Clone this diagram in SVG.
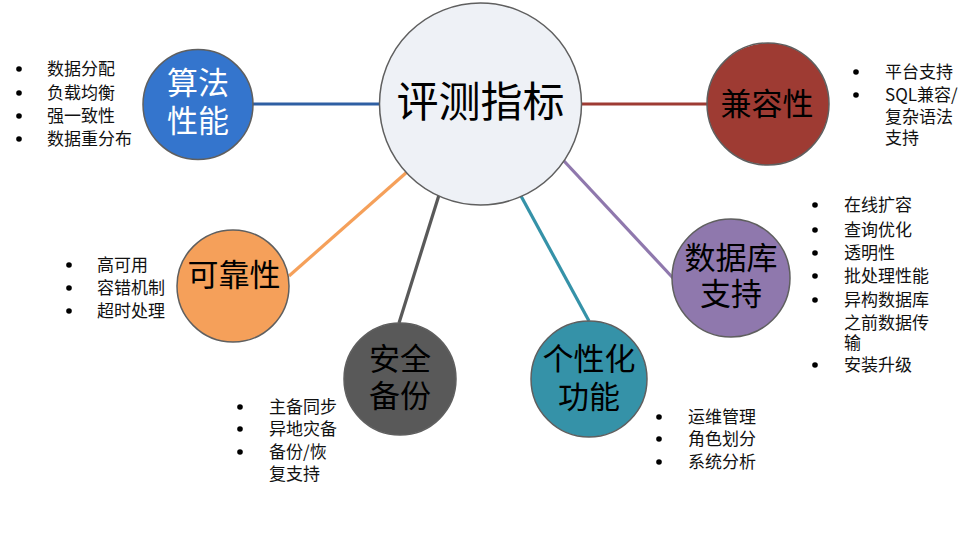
<svg xmlns="http://www.w3.org/2000/svg" width="972" height="545" viewBox="0 0 972 545">
<style>
.node{stroke:#5f5f5f;stroke-width:1.5}
.big{font-family:"Noto Sans CJK SC","Microsoft YaHei",sans-serif;font-size:31px;text-anchor:middle;fill:#000}
.li{font-family:"Noto Sans CJK SC","Microsoft YaHei",sans-serif;font-size:17px;fill:#111}
.dot{fill:#000}
.con{stroke-width:3.2;fill:none}
</style>
<rect width="972" height="545" fill="#fff"/>
<g id="connectors">
<line class="con" x1="253" y1="104" x2="380" y2="104" stroke="#2E5FA3"/>
<line class="con" x1="581" y1="104" x2="708" y2="104" stroke="#9E3B33"/>
<line class="con" x1="289" y1="276" x2="407" y2="172" stroke="#F5A05A"/>
<line class="con" x1="439" y1="195" x2="399" y2="323" stroke="#595959"/>
<line class="con" x1="521" y1="196" x2="589" y2="321" stroke="#3592A8"/>
<line class="con" x1="564" y1="161" x2="673" y2="278" stroke="#8F78AD"/>
</g>
<g id="center">
<circle class="node" cx="480.5" cy="104" r="101" fill="#EEF1F6" stroke="#888"/>
<text class="big" x="480.5" y="117" style="font-size:42px">评测指标</text>
</g>
<g id="algo">
<circle class="node" cx="198" cy="104.5" r="55" fill="#3475CD"/>
<text class="big" style="fill:#fff"><tspan x="198" y="94">算法</tspan><tspan x="198" y="132">性能</tspan></text>
<circle class="dot" cx="19" cy="69" r="2.8"/><text class="li" x="47" y="75">数据分配</text>
<circle class="dot" cx="19" cy="93" r="2.8"/><text class="li" x="47" y="99">负载均衡</text>
<circle class="dot" cx="19" cy="116" r="2.8"/><text class="li" x="47" y="122">强一致性</text>
<circle class="dot" cx="19" cy="139" r="2.8"/><text class="li" x="47" y="145">数据重分布</text>
</g>
<g id="compat">
<circle class="node" cx="768" cy="104" r="61" fill="#9E3B33"/>
<text class="big" x="767" y="115">兼容性</text>
<circle class="dot" cx="856" cy="72" r="2.8"/><text class="li" x="885" y="78">平台支持</text>
<circle class="dot" cx="856" cy="95" r="2.8"/><text class="li"><tspan x="885" y="101">SQL兼容/</tspan><tspan x="885" y="123">复杂语法</tspan><tspan x="885" y="144">支持</tspan></text>
</g>
<g id="dbsupport">
<circle class="node" cx="731" cy="278" r="59" fill="#8F78AD"/>
<text class="big"><tspan x="731" y="269">数据库</tspan><tspan x="731" y="305">支持</tspan></text>
<circle class="dot" cx="815" cy="205" r="2.8"/><text class="li" x="844" y="211">在线扩容</text>
<circle class="dot" cx="815" cy="230" r="2.8"/><text class="li" x="844" y="236">查询优化</text>
<circle class="dot" cx="815" cy="253" r="2.8"/><text class="li" x="844" y="259">透明性</text>
<circle class="dot" cx="815" cy="276" r="2.8"/><text class="li" x="844" y="282">批处理性能</text>
<circle class="dot" cx="815" cy="300" r="2.8"/><text class="li"><tspan x="844" y="306">异构数据库</tspan><tspan x="844" y="329">之前数据传</tspan><tspan x="844" y="349">输</tspan></text>
<circle class="dot" cx="815" cy="365" r="2.8"/><text class="li" x="844" y="371">安装升级</text>
</g>
<g id="reliab">
<circle class="node" cx="233" cy="286" r="56" fill="#F5A05A"/>
<text class="big" x="234" y="286">可靠性</text>
<circle class="dot" cx="69" cy="265" r="2.8"/><text class="li" x="97" y="271">高可用</text>
<circle class="dot" cx="69" cy="288" r="2.8"/><text class="li" x="97" y="294">容错机制</text>
<circle class="dot" cx="69" cy="311" r="2.8"/><text class="li" x="97" y="317">超时处理</text>
</g>
<g id="security">
<circle class="node" cx="400" cy="379" r="56" fill="#595959"/>
<text class="big"><tspan x="400" y="370">安全</tspan><tspan x="400" y="407">备份</tspan></text>
<circle class="dot" cx="240" cy="407" r="2.8"/><text class="li" x="269" y="413">主备同步</text>
<circle class="dot" cx="240" cy="429" r="2.8"/><text class="li" x="269" y="435">异地灾备</text>
<circle class="dot" cx="240" cy="452" r="2.8"/><text class="li"><tspan x="269" y="458">备份/恢</tspan><tspan x="269" y="480">复支持</tspan></text>
</g>
<g id="custom">
<circle class="node" cx="589" cy="379" r="58" fill="#3592A8"/>
<text class="big"><tspan x="589" y="370">个性化</tspan><tspan x="589" y="408">功能</tspan></text>
<circle class="dot" cx="659" cy="417" r="2.8"/><text class="li" x="688" y="423">运维管理</text>
<circle class="dot" cx="659" cy="439" r="2.8"/><text class="li" x="688" y="445">角色划分</text>
<circle class="dot" cx="659" cy="462" r="2.8"/><text class="li" x="688" y="468">系统分析</text>
</g>
</svg>
